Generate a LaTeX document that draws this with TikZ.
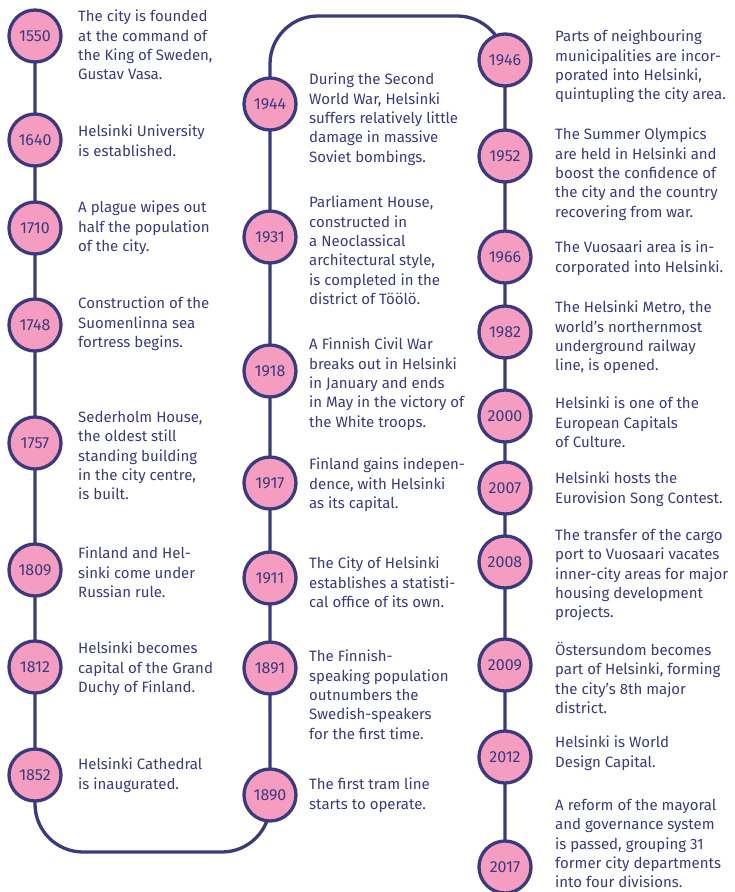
\documentclass[tikz,border=0pt]{standalone}
\usepackage{fontspec}
\setmainfont{Fira Sans}
\usetikzlibrary{backgrounds}
\definecolor{navy}{RGB}{58,58,126}
\definecolor{rose}{RGB}{244,157,193}
\begin{document}
\begin{tikzpicture}[x=1pt,y=-1pt,
	year/.style={circle,draw=navy,fill=rose,line width=3.3pt,minimum size=52pt,inner sep=0pt,text=navy,font=\fontsize{16}{18}\selectfont},
	event/.style={anchor=north west,inner sep=0pt,align=left,text=navy,font=\fontsize{15}{19.3}\selectfont},
	timeline/.style={draw=navy,line width=3.3pt,rounded corners=48pt}]
	\useasboundingbox (0,0) rectangle (734,892);
	% first column, going down
	\foreach \yr/\cy/\ty/\txt in {
		1550/36/10/{The city is founded\\at the command of\\the King of Sweden,\\Gustav Vasa.},
		1640/140/125/{Helsinki University\\is established.},
		1710/228/201/{A plague wipes out\\half the population\\of the city.},
		1748/325/297/{Construction of the\\Suomenlinna sea\\fortress begins.},
		1757/443/411/{Sederholm House,\\the oldest still\\standing building\\in the city centre,\\is built.},
		1809/570/547/{Finland and Hel-\\sinki come under\\Russian rule.},
		1812/667/642/{Helsinki becomes\\capital of the Grand\\Duchy of Finland.},
		1852/775/758/{Helsinki Cathedral\\is inaugurated.}}
	{
		\node[year] (y\yr) at (35,\cy) {\yr};
		\node[event] (t\yr) at (78,\ty) {\txt};
	}
	% second column, going up
	\foreach \yr/\cy/\ty/\txt in {
		1944/104/73/{During the Second\\World War, Helsinki\\suffers relatively little\\damage in massive\\Soviet bombings.},
		1931/237/196/{Parliament House,\\constructed in\\a Neoclassical\\architectural style,\\is completed in the\\district of Töölö.},
		1918/371/338/{A Finnish Civil War\\breaks out in Helsinki\\in January and ends\\in May in the victory of\\the White troops.},
		1917/483/458/{Finland gains indepen-\\dence, with Helsinki\\as its capital.},
		1911/578/557/{The City of Helsinki\\establishes a statisti-\\cal office of its own.},
		1891/668/650/{The Finnish-\\speaking population\\outnumbers the\\Swedish-speakers\\for the first time.},
		1890/795/778/{The first tram line\\starts to operate.}}
	{
		\node[year] (y\yr) at (270,\cy) {\yr};
		\node[event] (t\yr) at (309,\ty) {\txt};
	}
	% third column, going down
	\foreach \yr/\cy/\ty/\txt in {
		1946/60/30/{Parts of neighbouring\\municipalities are incor-\\porated into Helsinki,\\quintupling the city area.},
		1952/156/128/{The Summer Olympics\\are held in Helsinki and\\boost the confidence of\\the city and the country\\recovering from war.},
		1966/257/241/{The Vuosaari area is in-\\corporated into Helsinki.},
		1982/332/301/{The Helsinki Metro, the\\world’s northernmost\\underground railway\\line, is opened.},
		2000/416/397/{Helsinki is one of the\\European Capitals\\of Culture.},
		2007/488/472/{Helsinki hosts the\\Eurovision Song Contest.},
		2008/562/529/{The transfer of the cargo\\port to Vuosaari vacates\\inner-city areas for major\\housing development\\projects.},
		2009/665/642/{Östersundom becomes\\part of Helsinki, forming\\the city’s 8th major\\district.},
		2012/757/736/{Helsinki is World\\Design Capital.},
		2017/867/799/{A reform of the mayoral\\and governance system\\is passed, grouping 31\\former city departments\\into four divisions.}}
	{
		\node[year] (y\yr) at (505,\cy) {\yr};
		\node[event] (t\yr) at (555,\ty) {\txt};
	}
	% the line behind the circles
	\coordinate (bl) at (35,852);
	\coordinate (br) at (270,852);
	\coordinate (tl) at (270,16);
	\coordinate (tr) at (505,16);
	\begin{scope}[on background layer]
		\draw[timeline] (y1550.center) -- (bl) -- (br) -- (tl) -- (tr) -- (y2017.center);
	\end{scope}
\end{tikzpicture}
\end{document}
